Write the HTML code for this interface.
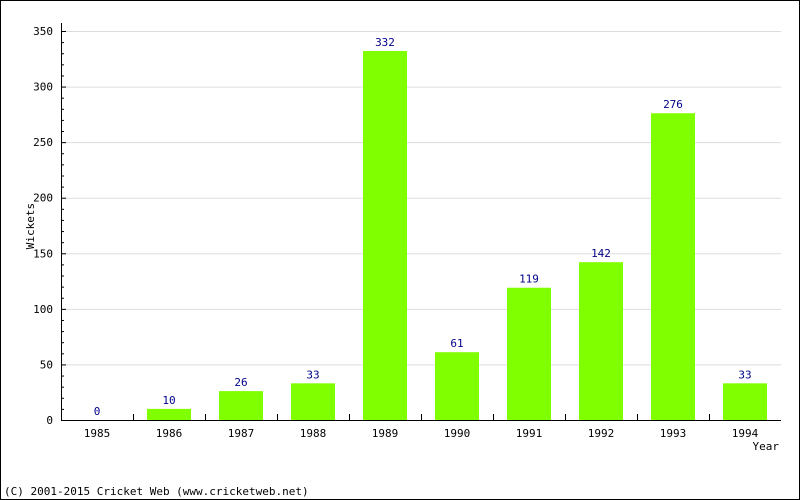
<!DOCTYPE html>
<html><head><meta charset="utf-8"><style>
body{margin:0;background:#fff}
svg{display:block;font-family:"DejaVu Sans Mono","Liberation Mono",monospace}
</style></head><body>
<svg width="800" height="500">
<rect x="0.5" y="0.5" width="799" height="499" fill="#fff" stroke="#000"/>
<g id="grid"></g><g id="bars"></g><g id="axes"></g>
<text x="34" y="226" font-size="11" text-anchor="middle" transform="rotate(-90 34 226)">Wickets</text>
<text x="779" y="450" font-size="11" text-anchor="end">Year</text>
<text x="4" y="495" font-size="11">(C) 2001-2015 Cricket Web (www.cricketweb.net)</text>
</svg>
<script>
const categories=["1985","1986","1987","1988","1989","1990","1991","1992","1993","1994"];
const values=[0,10,26,33,332,61,119,142,276,33];
const yTicks=[0,50,100,150,200,250,300,350];
const NS="http://www.w3.org/2000/svg";
const X0=61,X1=781,Y0=420,Y1=31,YMAX=350;
const step=(X1-X0)/categories.length;
const y=v=>Y0-(v/YMAX)*(Y0-Y1);
const xc=i=>X0+step*(i+0.5);
function mk(t,a,p){const e=document.createElementNS(NS,t);for(const k in a)e.setAttribute(k,a[k]);p.appendChild(e);return e;}
const grid=document.getElementById('grid'),bars=document.getElementById('bars'),axes=document.getElementById('axes');
yTicks.forEach(t=>{
  if(t>0){const g=mk('line',{x1:X0,x2:X1,y1:y(t)+0.5,y2:y(t)+0.5,stroke:'#ddd'},grid);
  
  }
  const tk=mk('line',{x1:X0,x2:X0+5,y1:y(t)+0.5,y2:y(t)+0.5,stroke:'#000'},axes);
  
  
  const l=mk('text',{x:X0-8,y:y(t)+4,'font-size':11,'text-anchor':'end'},axes);l.textContent=t;
  
  
});
for(let v=10;v<YMAX;v+=10){if(v%50===0)continue;
  const m=mk('line',{x1:X0,x2:X0+3,y1:y(v)+0.5,y2:y(v)+0.5,stroke:'#000'},axes);
  
  }
categories.forEach((c,i)=>{
  const v=values[i],bw=44;
  if(v>0){const r=mk('rect',{x:xc(i)-bw/2,y:y(v),width:bw,height:Y0-y(v),fill:'#80ff00'},bars);
  
  }
  const vl=mk('text',{x:xc(i),y:y(v)-5,'font-size':11,'text-anchor':'middle',fill:'#00008b'},bars);vl.textContent=v;
  
  
  const xl=mk('text',{x:xc(i),y:437,'font-size':11,'text-anchor':'middle'},axes);xl.textContent=c;
  
  
  if(i>0){const t=mk('line',{x1:X0+step*i+0.5,x2:X0+step*i+0.5,y1:Y0-6,y2:Y0,stroke:'#000'},axes);
  
  }
});
const ya=mk('line',{x1:X0+0.5,x2:X0+0.5,y1:Y1-8,y2:Y0,stroke:'#000'},axes);


const xa=mk('line',{x1:X0,x2:X1,y1:Y0+0.5,y2:Y0+0.5,stroke:'#000'},axes);


</script>
</body></html>
